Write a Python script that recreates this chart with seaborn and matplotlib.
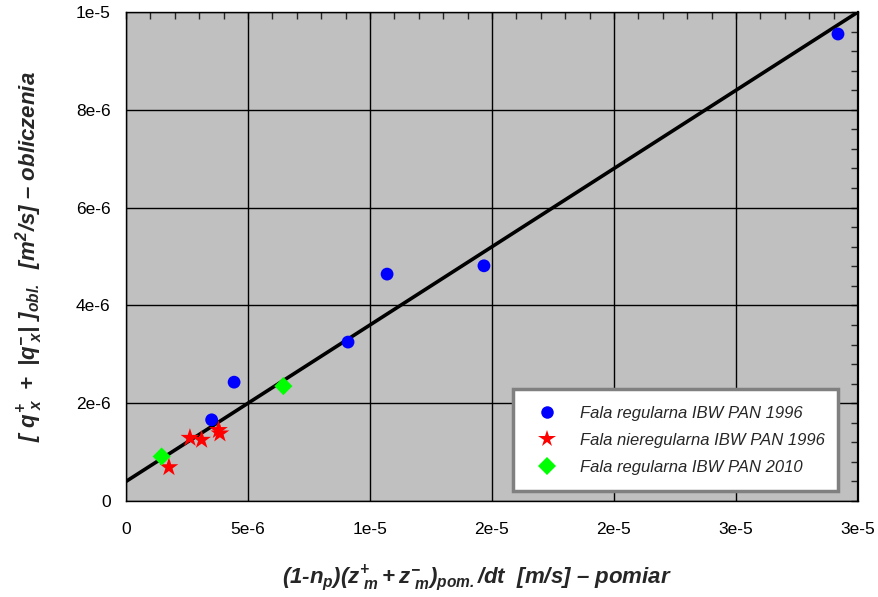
import numpy as np
import pandas as pd
import matplotlib
matplotlib.use("Agg")
import matplotlib.pyplot as plt
import seaborn as sns
from matplotlib.lines import Line2D
from matplotlib.ticker import FixedLocator, FixedFormatter, MultipleLocator

# ---- data ----
reg96_x = [2.918e-5, 1.467e-5, 1.070e-5, 0.910e-5, 4.43e-6, 3.51e-6]
reg96_y = [9.55e-6, 4.81e-6, 4.64e-6, 3.25e-6, 2.43e-6, 1.66e-6]
irr96_x = [2.62e-6, 3.10e-6, 3.79e-6, 3.85e-6, 1.76e-6]
irr96_y = [1.29e-6, 1.25e-6, 1.45e-6, 1.38e-6, 0.69e-6]
reg10_x = [1.46e-6, 6.45e-6]
reg10_y = [0.91e-6, 2.35e-6]
fit_x = [0.0, 3.0e-5]
fit_y = [0.40e-6, 1.0e-5]

series_names = ["Fala regularna IBW PAN 1996",
                "Fala nieregularna IBW PAN 1996",
                "Fala regularna IBW PAN 2010"]
x_ticks = [0, 5e-6, 1e-5, 1.5e-5, 2e-5, 2.5e-5, 3e-5]
x_tick_labels = ["0", "5e-6", "1e-5", "2e-5", "2e-5", "3e-5", "3e-5"]
y_ticks = [0, 2e-6, 4e-6, 6e-6, 8e-6, 1e-5]
y_tick_labels = ["0", "2e-6", "4e-6", "6e-6", "8e-6", "1e-5"]

sns.set_style("white")
plt.rcParams["font.family"] = ["Liberation Sans", "DejaVu Sans"]
plt.rcParams["mathtext.fontset"] = "custom"
plt.rcParams["mathtext.rm"] = "Liberation Sans:bold:italic"
plt.rcParams["mathtext.it"] = "Liberation Sans:bold:italic"
plt.rcParams["mathtext.bf"] = "Liberation Sans:bold:italic"

fig = plt.figure(figsize=(8.79, 5.97), dpi=100)
ax = fig.add_axes([126/879, 96/597, 732/879, 489/597])
ax.set_facecolor("#C0C0C0")

df = pd.concat([
    pd.DataFrame({"x": reg96_x, "y": reg96_y, "s": series_names[0]}),
    pd.DataFrame({"x": irr96_x, "y": irr96_y, "s": series_names[1]}),
    pd.DataFrame({"x": reg10_x, "y": reg10_y, "s": series_names[2]}),
])

sns.lineplot(x=fit_x, y=fit_y, ax=ax, color="black", lw=2.6, zorder=3)
colors = {series_names[0]: "#0000FF", series_names[1]: "#FF0000", series_names[2]: "#00FF00"}
markers = {series_names[0]: "o", series_names[1]: "*", series_names[2]: "D"}
sizes = {series_names[0]: 85, series_names[1]: 200, series_names[2]: 85}
for name in series_names:
    sub = df[df["s"] == name]
    sns.scatterplot(data=sub, x="x", y="y", ax=ax, color=colors[name],
                    marker=markers[name], s=sizes[name], edgecolor="none",
                    linewidth=0, zorder=4, legend=False)

ax.set_xlim(0, 3e-5)
ax.set_ylim(0, 1e-5)
ax.xaxis.set_major_locator(FixedLocator(x_ticks))
ax.xaxis.set_major_formatter(FixedFormatter(x_tick_labels))
ax.yaxis.set_major_locator(FixedLocator(y_ticks))
ax.yaxis.set_major_formatter(FixedFormatter(y_tick_labels))
ax.xaxis.set_minor_locator(MultipleLocator(1e-6))
ax.yaxis.set_minor_locator(MultipleLocator(4e-7))
ax.grid(True, which="major", color="black", lw=1.0, zorder=1)
ax.set_axisbelow(True)
for sp in ax.spines.values():
    sp.set_color("black")
    sp.set_linewidth(1.0)
ax.spines["right"].set_linewidth(1.6)
ax.tick_params(which="major", direction="inout", length=10, width=1.2,
               labelsize=12.5, pad=6, colors="black")
ax.tick_params(which="minor", direction="out", length=5, width=1.0)
ax.tick_params(axis="x", which="major", pad=10)

# inner minor ticks on top/right
sx = ax.secondary_xaxis("top")
sx.xaxis.set_major_locator(FixedLocator([]))
sx.xaxis.set_minor_locator(MultipleLocator(1e-6))
sx.tick_params(which="minor", direction="in", length=5, width=1.0)
sx.spines["top"].set_visible(False)
sy = ax.secondary_yaxis("right")
sy.yaxis.set_major_locator(FixedLocator([]))
sy.yaxis.set_minor_locator(MultipleLocator(4e-7))
sy.tick_params(which="minor", direction="in", length=5, width=1.0)
sy.spines["right"].set_visible(False)

ax.set_xlabel(r"$(1$-$n_p)(z^{+}_{\ m} + z^{-}_{\ m})_{pom.}/dt$  $[m/s]$ – pomiar",
              fontsize=16, fontweight="bold", fontstyle="italic")
ax.xaxis.set_label_coords(0.48, -0.128)
ax.set_ylabel(r"$[\ q^{+}_{\ x}\ +\ |q^{-}_{\ x}|\ ]_{obl.}$  $[m^{2}/s]$ – obliczenia",
              fontsize=16, fontweight="bold", fontstyle="italic", labelpad=22)

handles = [Line2D([], [], ls="none", marker=markers[n], color=colors[n],
                  markersize=ms, markeredgewidth=0)
           for n, ms in zip(series_names, [9, 13, 9])]
leg = ax.legend(handles, series_names, loc="lower left",
                bbox_to_anchor=(0.529, 0.020, 0.444, 0.203), mode="expand",
                frameon=True, fancybox=False, borderpad=1.0, labelspacing=0.72,
                handletextpad=1.0, borderaxespad=0,
                prop={"style": "italic", "size": 12})
leg.get_frame().set_edgecolor("#808080")
leg.get_frame().set_linewidth(2.5)
leg.get_frame().set_facecolor("white")
leg.get_frame().set_alpha(1)

fig.savefig("out.png", dpi=100)
